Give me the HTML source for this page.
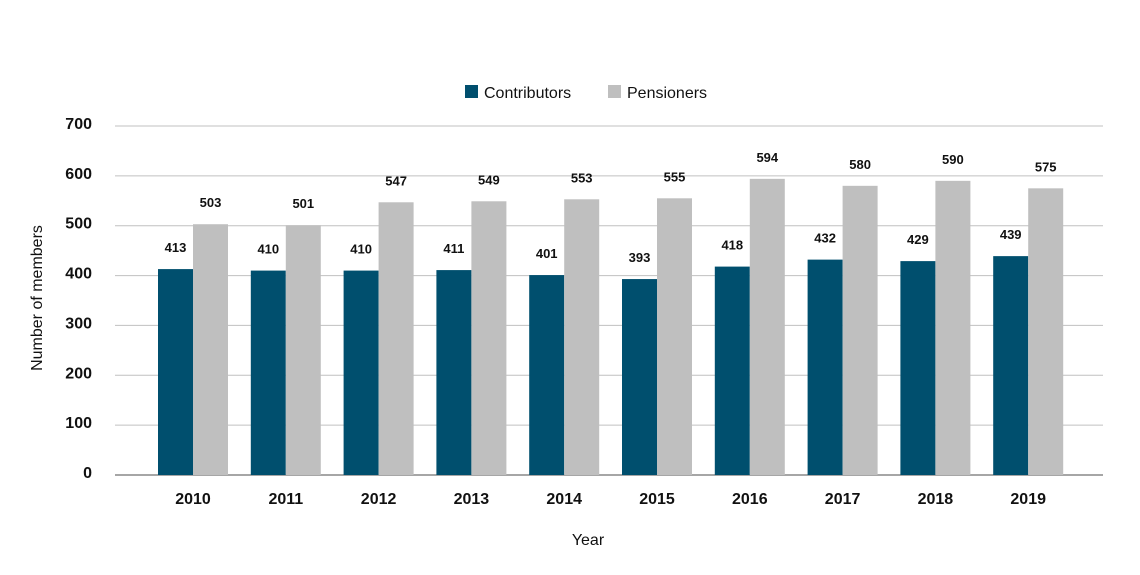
<!DOCTYPE html>
<html><head><meta charset="utf-8"><style>
body{margin:0;background:#fff;}
svg text{font-family:"Liberation Sans Narrow","Liberation Sans",sans-serif;fill:#111;}
</style></head><body>
<svg id="chart" width="1140" height="570"></svg>
<script>
const years=["2010","2011","2012","2013","2014","2015","2016","2017","2018","2019"];
const contributors=[413,410,410,411,401,393,418,432,429,439];
const pensioners=[503,501,547,549,553,555,594,580,590,575];
const yTicks=[0,100,200,300,400,500,600,700];
const svg=document.getElementById('chart');
const NS="http://www.w3.org/2000/svg";
function mk(t,a,txt){const e=document.createElementNS(NS,t);for(const k in a)e.setAttribute(k,a[k]);if(txt!==undefined)e.textContent=txt;svg.appendChild(e);return e;}
const y0=475,y1=126,vmax=700;
function yS(v){return y0-(v/vmax)*(y0-y1);}
const gLeft=146.6,gStep=92.8,bw=35;
function xC(i){return gLeft+gStep*(i+0.5);}
yTicks.forEach(t=>{
 const l=mk('line',{x1:115,x2:1103,y1:yS(t),y2:yS(t),stroke:t===0?'#888':'#c0c0c0','stroke-width':t===0?1.5:1});
 
 
 const tx=mk('text',{x:92,y:yS(t)+3,'text-anchor':'end','font-size':16,'font-weight':'bold'},t);
 
 
});
years.forEach((yr,i)=>{
 const c=xC(i);
 const b1=mk('rect',{x:c-bw,y:yS(contributors[i]),width:bw,height:y0-yS(contributors[i]),fill:'#004f6e'});
 
 
 const b2=mk('rect',{x:c,y:yS(pensioners[i]),width:bw,height:y0-yS(pensioners[i]),fill:'#bfbfbf'});
 
 
 const l1=mk('text',{x:c-bw/2,y:yS(contributors[i])-17,'text-anchor':'middle','font-size':13,'font-weight':'bold'},contributors[i]);
 
 
 const l2=mk('text',{x:c+bw/2,y:yS(pensioners[i])-17,'text-anchor':'middle','font-size':13,'font-weight':'bold'},pensioners[i]);
 
 
 const xl=mk('text',{x:c,y:504,'text-anchor':'middle','font-size':16,'font-weight':'bold'},yr);
 
 
});
const xt=mk('text',{x:588,y:545,'text-anchor':'middle','font-size':16},'Year');


const yt=mk('text',{x:0,y:0,'text-anchor':'middle','font-size':16,transform:'translate(42,298) rotate(-90)'},'Number of members');


const s1=mk('rect',{x:465,y:85,width:13,height:13,fill:'#004f6e'});


const t1=mk('text',{x:484,y:98,'font-size':16},'Contributors');


const s2=mk('rect',{x:608,y:85,width:13,height:13,fill:'#bfbfbf'});


const t2=mk('text',{x:627,y:98,'font-size':16},'Pensioners');


</script>
</body></html>
